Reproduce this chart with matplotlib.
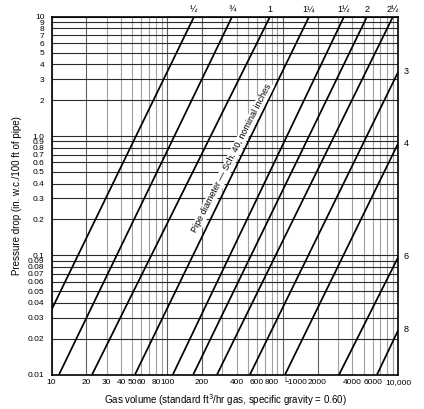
import matplotlib
matplotlib.use('Agg')
import matplotlib.pyplot as plt
from matplotlib.ticker import FixedLocator, NullLocator

plt.rcParams['font.family'] = ['Liberation Sans', 'DejaVu Sans']

# pipe sizes and the two end points of each line
pipe_labels = ['½', '¾', '1', '1¼', '1½', '2', '2½', '3', '4', '6', '8']
q_start = [10, 11.6, 22.4, 52.7, 112, 168, 270, 520, 1047, 3070, 6540]
dp_start = [0.035, 0.01, 0.01, 0.01, 0.01, 0.01, 0.01, 0.01, 0.01, 0.01, 0.01]
q_end = [171, 365, 777, 1690, 3390, 5360, 8990, 10000, 10000, 10000, 10000]
dp_end = [10, 10, 10, 10, 10, 10, 10, 3.46, 0.873, 0.097, 0.0237]

x_ticks = [10, 20, 30, 40, 50, 60, 80, 100, 200, 400, 600, 800,
           1000, 2000, 4000, 6000, 10000]
x_ticklabels = ['10', '20', '30', '40', '50', '60', '80', '100', '200',
                '400', '600', '800', '└1000', '2000', '4000', '6000', '10,000']
y_ticks = [0.01, 0.02, 0.03, 0.04, 0.05, 0.06, 0.07, 0.08, 0.09,
           0.1, 0.2, 0.3, 0.4, 0.5, 0.6, 0.7, 0.8, 0.9,
           1, 2, 3, 4, 5, 6, 7, 8, 9, 10]
y_ticklabels = ['0.01', '0.02', '0.03', '0.04', '0.05', '0.06', '0.07',
                '0.08', '0.09', '0.1', '0.2', '0.3', '0.4', '0.5', '0.6',
                '0.7', '0.8', '0.9', '1.0', '2', '3', '4', '5', '6', '7',
                '8', '9', '10']

# grid positions
x_grid = [m * 10 ** e for e in (1, 2, 3) for m in range(1, 10)] + [10000]
y_grid = y_ticks

fig = plt.figure(figsize=(4.24, 4.09), dpi=100)
ax = fig.add_axes([0.1215, 0.0839, 0.8179, 0.8753])
ax.set_xscale('log')
ax.set_yscale('log')
ax.set_xlim(10, 10000)
ax.set_ylim(0.01, 10)

for gx in x_grid:
    dark = gx in (20, 100, 200, 1000, 2000)
    ax.axvline(gx, color='#606060' if dark else '#a0a0a0',
               lw=0.8, zorder=1)
for gy in y_grid:
    ax.axhline(gy, color='#2a2a2a', lw=0.8, zorder=1)

for lab, x0, y0, x1, y1 in zip(pipe_labels, q_start, dp_start, q_end, dp_end):
    ax.plot([x0, x1], [y0, y1], color='black', lw=1.25, zorder=3,
            solid_capstyle='butt')
    if y1 >= 10:
        ax.annotate(lab, (x1, 10), xytext=(0, 2), textcoords='offset points',
                    ha='center', va='bottom', fontsize=6.5)
    else:
        ax.annotate(lab, (10000, y1), xytext=(4, 0),
                    textcoords='offset points', ha='left', va='center',
                    fontsize=6.5)

ax.text(364, 0.655, 'Pipe diameter — Sch. 40, nominal inches', fontsize=6.5,
        rotation=63, rotation_mode='anchor', ha='center', va='center',
        zorder=4, bbox=dict(facecolor='white', edgecolor='none', pad=0.6))

ax.xaxis.set_major_locator(FixedLocator(x_ticks))
ax.xaxis.set_minor_locator(NullLocator())
ax.set_xticklabels(x_ticklabels)
ax.yaxis.set_major_locator(FixedLocator(y_ticks))
ax.yaxis.set_minor_locator(NullLocator())
ax.set_yticklabels(y_ticklabels)
ax.tick_params(length=0, labelsize=6)
ax.tick_params(axis='x', pad=3)
ax.tick_params(axis='y', pad=5)
# the 1000 label sits right of its line with a small leader
ax.get_xticklabels()[12].set_horizontalalignment('left')

for sp in ax.spines.values():
    sp.set_linewidth(1.2)
    sp.set_zorder(5)

ax.set_xlabel('Gas volume (standard ft$^3$/hr gas, specific gravity = 0.60)',
              fontsize=7, labelpad=4)
ax.set_ylabel('Pressure drop (in. w.c./100 ft of pipe)', fontsize=7,
              labelpad=4)

fig.savefig('out.png', dpi=100)
